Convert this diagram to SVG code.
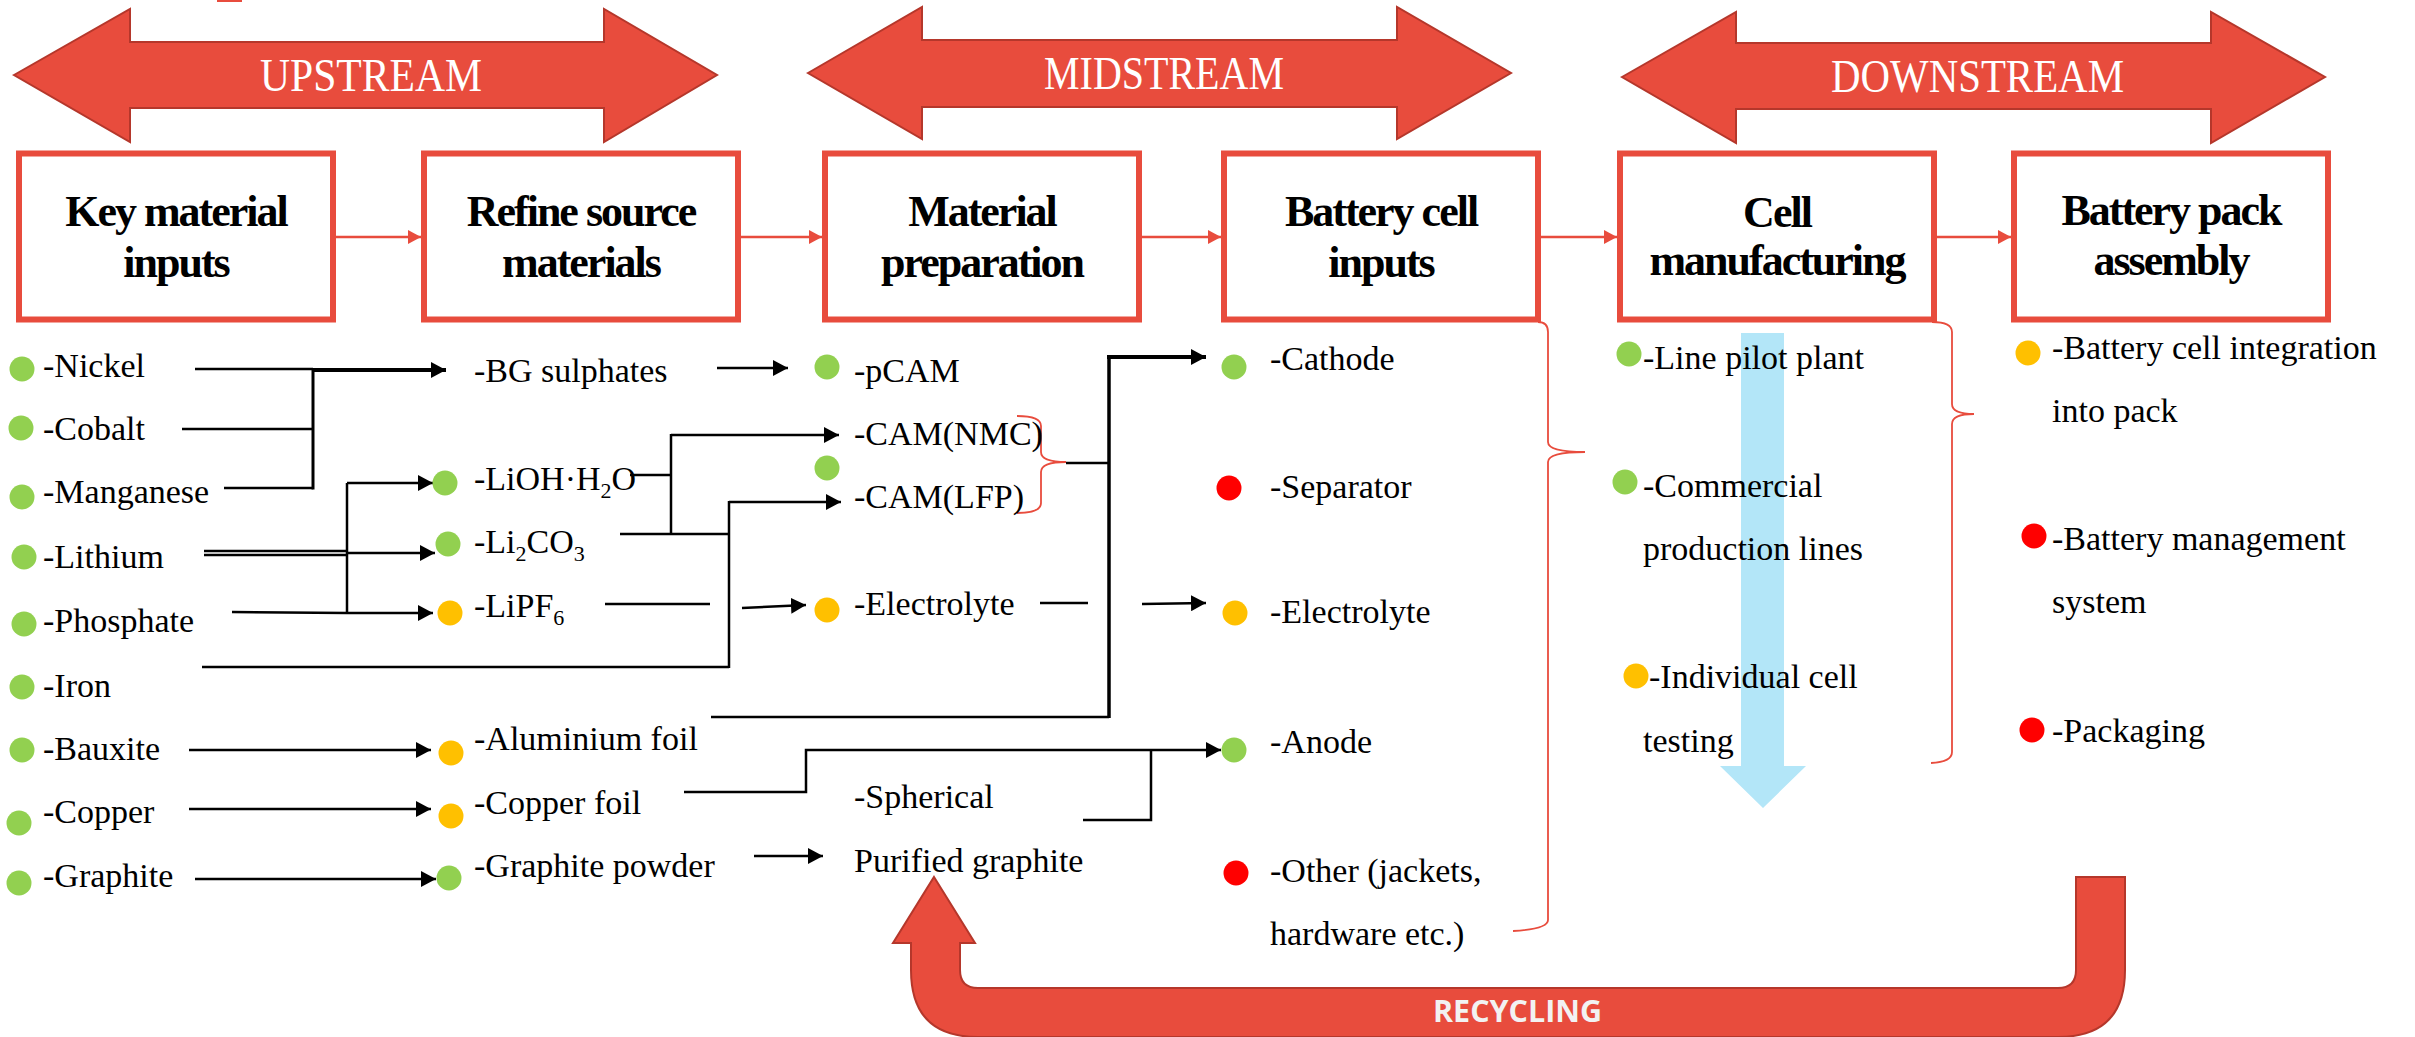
<svg xmlns="http://www.w3.org/2000/svg" width="2415" height="1037" viewBox="0 0 2415 1037">
<style>
  .t{font-family:"Liberation Serif","Times New Roman",serif;font-size:34px;fill:#000}
  .tb{font-family:"Liberation Serif","Times New Roman",serif;font-size:44px;font-weight:bold;fill:#000;text-anchor:middle;letter-spacing:-2px}
  .ts{font-family:"Liberation Serif","Times New Roman",serif;font-size:46px;fill:#fff}
  .box{fill:#fff;stroke:#E84C3D;stroke-width:6}
  .big{fill:#E84C3D;stroke:#B5372B;stroke-width:2}
  .ln{fill:none;stroke:#000;stroke-width:2.5}
  .thk{fill:none;stroke:#000;stroke-width:4}
  .rl{fill:none;stroke:#E84C3D;stroke-width:2.5}
  .br{fill:none;stroke:#E84C3D;stroke-width:1.8}
  .g{fill:#92D050}.y{fill:#FFC000}.r{fill:#FF0000}
</style>
<defs>
  <marker id="ah" markerWidth="16" markerHeight="16" refX="15" refY="8" orient="auto" markerUnits="userSpaceOnUse"><path d="M0,0 L15,8 L0,16 z" fill="#000"/></marker>
  <marker id="rh" markerWidth="14" markerHeight="14" refX="13" refY="7" orient="auto" markerUnits="userSpaceOnUse"><path d="M0,0 L13,7 L0,14 z" fill="#E84C3D"/></marker>
</defs>
<rect x="0" y="0" width="2415" height="1037" fill="#fff"/>
<rect x="217" y="0" width="25" height="2" fill="#E84C3D"/>

<!-- stage arrows -->
<g id="upstream">
  <polygon class="big" points="14,75 130,9 130,42 604,42 604,9 717,75 604,142 604,108 130,108 130,142"/>
  <text class="ts" x="260" y="91" textLength="222" lengthAdjust="spacingAndGlyphs">UPSTREAM</text>
</g>
<g id="midstream">
  <polygon class="big" points="808,73 922,7 922,40 1397,40 1397,7 1511,73 1397,139 1397,107 922,107 922,139"/>
  <text class="ts" x="1044" y="89" textLength="240" lengthAdjust="spacingAndGlyphs">MIDSTREAM</text>
</g>
<g id="downstream">
  <polygon class="big" points="1622,77 1736,12 1736,43 2211,43 2211,12 2325,77 2211,143 2211,109 1736,109 1736,143"/>
  <text class="ts" x="1831" y="92" textLength="293" lengthAdjust="spacingAndGlyphs">DOWNSTREAM</text>
</g>

<!-- recycling arrow -->
<g id="recycling">
  <path class="big" d="M934,877 L975,943 L960,943 L960,970 Q960,988 978,988 L2058,988 Q2076,988 2076,970 L2076,877 L2125,877 L2125,970 Q2125,1037 2058,1037 L978,1037 Q911,1037 911,970 L911,943 L893,943 Z"/>
  <text x="1433" y="1022" textLength="169" lengthAdjust="spacingAndGlyphs" style="font-family:'Open Sans','Liberation Sans',sans-serif;font-size:30px;font-weight:bold;fill:#F2F2F2">RECYCLING</text>
</g>

<!-- blue arrow -->
<g id="blue-arrow">
  <polygon points="1741,333 1784,333 1784,766 1806,766 1763,808 1720,766 1741,766" fill="#B3E6F8"/>
</g>

<!-- stage boxes -->
<g id="box-key">
  <rect class="box" x="19" y="153.5" width="314" height="166"/>
  <text class="tb" x="176" y="226">Key material</text>
  <text class="tb" x="176" y="277">inputs</text>
</g>
<g id="box-refine">
  <rect class="box" x="424" y="153.5" width="314" height="166"/>
  <text class="tb" x="581" y="226">Refine source</text>
  <text class="tb" x="581" y="277">materials</text>
</g>
<g id="box-prep">
  <rect class="box" x="825" y="153.5" width="314" height="166"/>
  <text class="tb" x="982" y="226">Material</text>
  <text class="tb" x="982" y="277">preparation</text>
</g>
<g id="box-cellinputs">
  <rect class="box" x="1224" y="153.5" width="314" height="166"/>
  <text class="tb" x="1381" y="226">Battery cell</text>
  <text class="tb" x="1381" y="277">inputs</text>
</g>
<g id="box-cellmfg">
  <rect class="box" x="1620" y="153.5" width="314" height="166"/>
  <text class="tb" x="1777" y="227">Cell</text>
  <text class="tb" x="1777" y="275">manufacturing</text>
</g>
<g id="box-pack">
  <rect class="box" x="2014" y="153.5" width="314" height="166"/>
  <text class="tb" x="2171" y="225">Battery pack</text>
  <text class="tb" x="2171" y="275">assembly</text>
</g>

<!-- connectors -->
<g id="connectors">
  <line class="rl" x1="336" y1="237" x2="421" y2="237" marker-end="url(#rh)"/>
  <line class="rl" x1="741" y1="237" x2="822" y2="237" marker-end="url(#rh)"/>
  <line class="rl" x1="1142" y1="237" x2="1221" y2="237" marker-end="url(#rh)"/>
  <line class="rl" x1="1541" y1="237" x2="1617" y2="237" marker-end="url(#rh)"/>
  <line class="rl" x1="1937" y1="237" x2="2011" y2="237" marker-end="url(#rh)"/>

  <!-- Ni/Co/Mn to sulphates -->
  <path class="ln" d="M195,369 L313,369"/>
  <path class="ln" d="M182,429 L313,429"/>
  <path class="ln" d="M224,488 L313,488"/>
  <path class="ln" style="stroke-width:3" d="M313,368 L313,489.5"/>
  <path class="thk" d="M313,370 L446,370" marker-end="url(#ah)"/>
  <path class="ln" d="M717,368 L788,368" marker-end="url(#ah)"/>

  <!-- Li / phosphate -->
  <path class="ln" d="M204,551 L347,551"/>
  <path class="ln" d="M204,555 L347,555"/>
  <path class="ln" d="M347,483 L347,613"/>
  <path class="ln" d="M347,483 L433,483" marker-end="url(#ah)"/>
  <path class="ln" d="M347,553 L435,553" marker-end="url(#ah)"/>
  <path class="ln" d="M232,612 L347,613 L433,613" marker-end="url(#ah)"/>

  <!-- to CAM -->
  <path class="ln" d="M630,475 L671,475"/>
  <path class="ln" d="M671,434 L671,534"/>
  <path class="ln" d="M620,534 L729,534"/>
  <path class="ln" d="M671,435 L839,435" marker-end="url(#ah)"/>
  <path class="ln" d="M729,501 L729,668"/>
  <path class="ln" d="M202,667 L729,667"/>
  <path class="ln" d="M729,502 L841,502" marker-end="url(#ah)"/>

  <!-- electrolyte -->
  <path class="ln" d="M605,604 L710,604"/>
  <path class="ln" d="M742,608 L806,605" marker-end="url(#ah)"/>
  <path class="ln" d="M1040,603 L1088,603"/>
  <path class="ln" d="M1142,604 L1206,603" marker-end="url(#ah)"/>

  <!-- cathode -->
  <path class="ln" d="M1066,463 L1109,463"/>
  <path class="ln" style="stroke-width:3.5" d="M1109,355 L1109,718"/>
  <path class="thk" d="M1107,357 L1206,357" marker-end="url(#ah)"/>
  <path class="ln" d="M711,717 L1109,717"/>

  <!-- foils / graphite -->
  <path class="ln" d="M189,750 L431,750" marker-end="url(#ah)"/>
  <path class="ln" d="M189,809 L431,809" marker-end="url(#ah)"/>
  <path class="ln" d="M195,879 L436,879" marker-end="url(#ah)"/>
  <path class="ln" d="M684,792 L806,792 L806,750 L1221,750" marker-end="url(#ah)"/>
  <path class="ln" d="M1083,820 L1151,820 L1151,750"/>
  <path class="ln" d="M754,856 L823,856" marker-end="url(#ah)"/>

  <!-- braces -->
  <path class="br" d="M1017,416 Q1041,416 1041,426 L1041,452 Q1041,462 1066,462 Q1041,462 1041,472 L1041,503 Q1041,513 1017,513"/>
  <path class="br" d="M1538,322 Q1548,322 1548,332 L1548,442 Q1548,452 1585,452 Q1548,452 1548,462 L1548,920 Q1548,929 1513,931"/>
  <path class="br" d="M1932,322 Q1952,322 1952,332 L1952,404 Q1952,414 1974,414 Q1952,414 1952,424 L1952,752 Q1952,762 1931,763"/>
</g>

<!-- key material inputs -->
<g id="col-key">
  <circle class="g" cx="22" cy="369" r="12.5"/><text class="t" x="43" y="377">-Nickel</text>
  <circle class="g" cx="21" cy="428" r="12.5"/><text class="t" x="43" y="440">-Cobalt</text>
  <circle class="g" cx="22" cy="497" r="12.5"/><text class="t" x="43" y="503">-Manganese</text>
  <circle class="g" cx="24" cy="557" r="12.5"/><text class="t" x="43" y="568">-Lithium</text>
  <circle class="g" cx="24" cy="624" r="12.5"/><text class="t" x="43" y="632">-Phosphate</text>
  <circle class="g" cx="22" cy="687" r="12.5"/><text class="t" x="43" y="697">-Iron</text>
  <circle class="g" cx="22" cy="750" r="12.5"/><text class="t" x="43" y="760">-Bauxite</text>
  <circle class="g" cx="19" cy="823" r="12.5"/><text class="t" x="43" y="823">-Copper</text>
  <circle class="g" cx="19" cy="883" r="12.5"/><text class="t" x="43" y="887">-Graphite</text>
</g>

<!-- refined -->
<g id="col-refine">
  <text class="t" x="474" y="382">-BG sulphates</text>
  <circle class="g" cx="445" cy="483" r="12.5"/><text class="t" x="474" y="490">-LiOH·H<tspan dy="8" style="font-size:22px">2</tspan><tspan dy="-8">O</tspan></text>
  <circle class="g" cx="448" cy="544" r="12.5"/><text class="t" x="474" y="553">-Li<tspan dy="8" style="font-size:22px">2</tspan><tspan dy="-8">CO</tspan><tspan dy="8" style="font-size:22px">3</tspan></text>
  <circle class="y" cx="450" cy="613" r="12.5"/><text class="t" x="474" y="617">-LiPF<tspan dy="8" style="font-size:22px">6</tspan></text>
  <circle class="y" cx="451" cy="753" r="12.5"/><text class="t" x="474" y="750">-Aluminium foil</text>
  <circle class="y" cx="451" cy="816" r="12.5"/><text class="t" x="474" y="814">-Copper foil</text>
  <circle class="g" cx="449" cy="878" r="12.5"/><text class="t" x="474" y="877">-Graphite powder</text>
</g>

<!-- material preparation -->
<g id="col-prep">
  <circle class="g" cx="827" cy="367" r="12.5"/><text class="t" x="854" y="382">-pCAM</text>
  <text class="t" x="854" y="445">-CAM(NMC)</text>
  <circle class="g" cx="827" cy="468" r="12.5"/>
  <text class="t" x="854" y="508">-CAM(LFP)</text>
  <circle class="y" cx="827" cy="610" r="12.5"/><text class="t" x="854" y="615">-Electrolyte</text>
  <text class="t" x="854" y="808">-Spherical</text>
  <text class="t" x="854" y="872">Purified graphite</text>
</g>

<!-- battery cell inputs -->
<g id="col-cellinputs">
  <circle class="g" cx="1234" cy="367" r="12.5"/><text class="t" x="1270" y="370">-Cathode</text>
  <circle class="r" cx="1229" cy="488" r="12.5"/><text class="t" x="1270" y="498">-Separator</text>
  <circle class="y" cx="1235" cy="613" r="12.5"/><text class="t" x="1270" y="623">-Electrolyte</text>
  <circle class="g" cx="1234" cy="750" r="12.5"/><text class="t" x="1270" y="753">-Anode</text>
  <circle class="r" cx="1236" cy="873" r="12.5"/><text class="t" x="1270" y="882">-Other (jackets,</text>
  <text class="t" x="1270" y="945">hardware etc.)</text>
</g>

<!-- cell manufacturing -->
<g id="col-cellmfg">
  <circle class="g" cx="1629" cy="354" r="12.5"/><text class="t" x="1643" y="369">-Line pilot plant</text>
  <circle class="g" cx="1625" cy="482" r="12.5"/><text class="t" x="1643" y="497">-Commercial</text>
  <text class="t" x="1643" y="560">production lines</text>
  <circle class="y" cx="1636" cy="676" r="12.5"/><text class="t" x="1649" y="688">-Individual cell</text>
  <text class="t" x="1643" y="752">testing</text>
</g>

<!-- battery pack assembly -->
<g id="col-pack">
  <circle class="y" cx="2028" cy="353" r="12.5"/><text class="t" x="2052" y="359">-Battery cell integration</text>
  <text class="t" x="2052" y="422">into pack</text>
  <circle class="r" cx="2034" cy="536" r="12.5"/><text class="t" x="2052" y="550">-Battery management</text>
  <text class="t" x="2052" y="613">system</text>
  <circle class="r" cx="2032" cy="730" r="12.5"/><text class="t" x="2052" y="742">-Packaging</text>
</g>
</svg>
